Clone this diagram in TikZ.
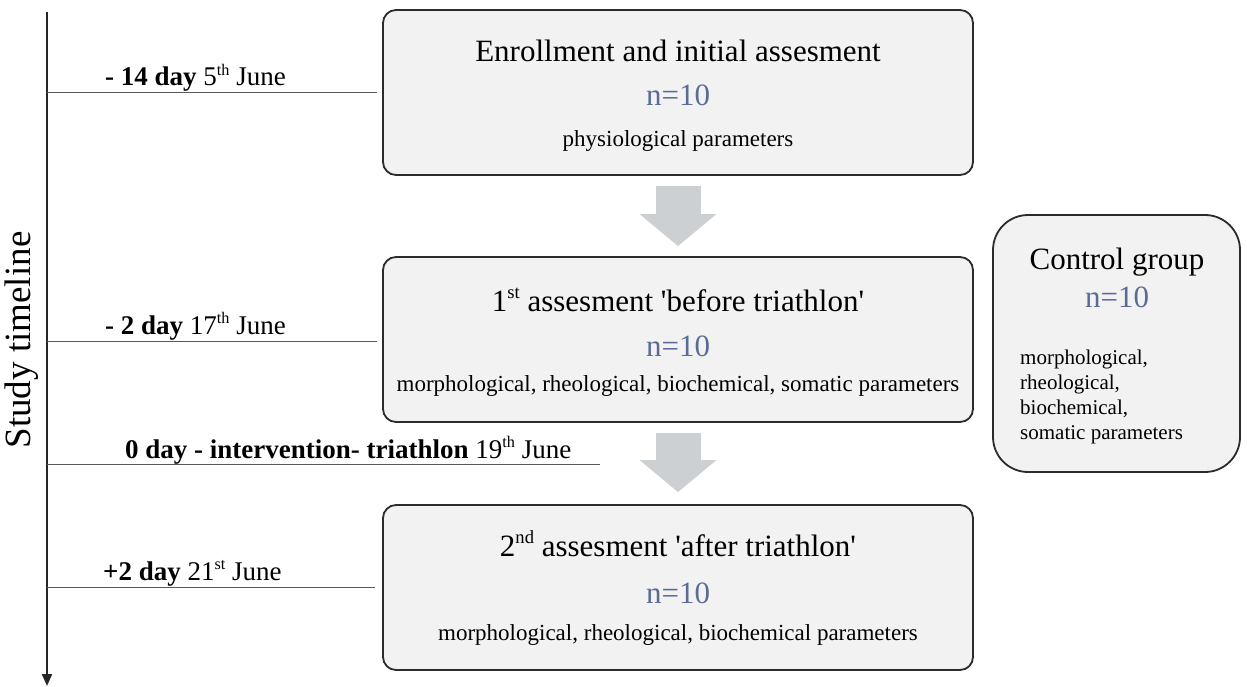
\documentclass[tikz,border=0pt]{standalone}
\usepackage{fontspec}
\setmainfont{Liberation Serif}
\usetikzlibrary{arrows.meta,positioning}
\definecolor{boxfill}{HTML}{F2F2F2}
\definecolor{boxline}{HTML}{2B2B2B}
\definecolor{ncolor}{HTML}{5B6B96}
\definecolor{arrowgray}{HTML}{CDD0D3}
\newcommand{\supx}[1]{\raisebox{0.4em}{\scalebox{0.6}{#1}}}
\tikzset{
    stagebox/.style={draw=boxline, fill=boxfill, line width=1.8pt, rounded corners=13pt,
        minimum width=590pt, minimum height=165pt, inner sep=0pt},
    titletext/.style={font=\fontsize{31}{36}\selectfont, inner sep=0pt, anchor=base},
    ntext/.style={font=\fontsize{31}{36}\selectfont, text=ncolor, inner sep=0pt, anchor=base},
    paramtext/.style={font=\fontsize{23}{27}\selectfont, inner sep=0pt, anchor=base},
    ctrlparam/.style={font=\fontsize{21}{25}\selectfont, inner sep=0pt, anchor=base west},
    daytext/.style={font=\fontsize{27}{30}\selectfont, inner sep=0pt, anchor=base west},
    tickline/.style={draw=black!65, line width=1pt},
    axisline/.style={draw=black!85, line width=2pt, -{Triangle[width=10pt,length=12pt]}},
    flowarrow/.style={arrowgray, line width=45pt, -{Triangle[width=75pt,length=32pt]}},
}
\begin{document}
\begin{tikzpicture}[x=1pt,y=-1pt]
    \useasboundingbox (0,0) rectangle (1247,687);
    % stages of the study
    \node[stagebox] (enroll) at (678,92.5) {};
    \node[stagebox] (before) at (678,339.5) {};
    \node[stagebox] (after) at (678,587.5) {};
    \node[stagebox, minimum width=247pt, minimum height=257pt, rounded corners=35pt] (control) at (1116.5,343.5) {};

    \node[titletext] (enrollT) at (678,62) {Enrollment and initial assesment};
    \node[ntext] (enrollN) at (678,106) {n=10};
    \node[paramtext] (enrollP) at (678,147) {physiological parameters};

    \node[titletext] (beforeT) at (678,311) {1\supx{st} assesment \textquotesingle before triathlon\textquotesingle};
    \node[ntext] (beforeN) at (678,356) {n=10};
    \node[paramtext] (beforeP) at (678,391) {morphological, rheological, biochemical, somatic parameters};

    \node[titletext] (afterT) at (678,556) {2\supx{nd} assesment \textquotesingle after triathlon\textquotesingle};
    \node[ntext] (afterN) at (678,603) {n=10};
    \node[paramtext] (afterP) at (678,640) {morphological, rheological, biochemical parameters};

    \node[titletext] (controlT) at (1117,269) {Control group};
    \node[ntext] (controlN) at (1117,307) {n=10};
    \foreach \t [count=\i] in {{morphological,}, {rheological,}, {biochemical,}, {somatic parameters}}
        \node[ctrlparam] (ctrl\i) at (1020,339+25*\i) {\t};

    % flow between stages
    \draw[flowarrow] ([yshift=-10pt]enroll.south) -- ([yshift=10pt]before.north);
    \draw[flowarrow] ([yshift=-10pt]before.south) -- ([yshift=12pt]after.north);

    % timeline
    \coordinate (axistop) at (47,12);
    \coordinate (axisend) at (47,686);
    \draw[axisline] (axistop) -- (axisend);
    \node[font=\fontsize{37}{40}\selectfont, rotate=90, inner sep=0pt] (axislabel) at (22,340) {Study timeline};

    \coordinate (t1) at (47,93);   \coordinate (t1e) at (377,93);
    \coordinate (t2) at (47,341);  \coordinate (t2e) at (377,341);
    \coordinate (t3) at (47,464);  \coordinate (t3e) at (600,464);
    \coordinate (t4) at (47,587);  \coordinate (t4e) at (375,587);
    \draw[tickline] (t1) -- (t1e);
    \draw[tickline] (t2) -- (t2e);
    \draw[tickline] (t3) -- (t3e);
    \draw[tickline] (t4) -- (t4e);

    \node[daytext] (day1) at (105,86) {\textbf{- 14 day} 5\supx{th} June};
    \node[daytext] (day2) at (105,334) {\textbf{- 2 day} 17\supx{th} June};
    \node[daytext] (day3) at (125,458) {\textbf{0 day - intervention- triathlon} 19\supx{th} June};
    \node[daytext] (day4) at (103,580) {\textbf{+2 day} 21\supx{st} June};
\end{tikzpicture}
\end{document}
